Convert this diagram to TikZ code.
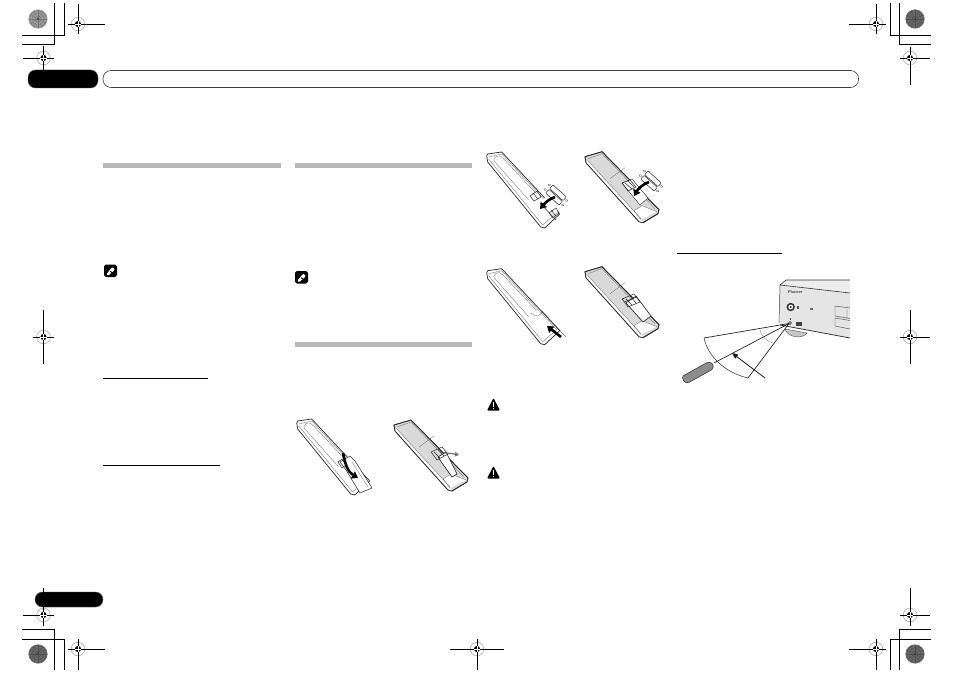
\documentclass[tikz,border=0pt]{standalone}
\usetikzlibrary{arrows.meta}
\definecolor{barg}{gray}{0.72}
\definecolor{regg}{gray}{0.6}
\tikzset{
  trim/.style={line width=0.95pt,black},
  pill/.style={fill=black,draw=black!70,line width=0.4pt,rounded corners=7.5pt},
  bar/.style={fill=barg,draw=none},
  rule/.style={line width=0.8pt,black},
  rem/.style={line width=0.7pt,draw=black!85,line join=round},
  remthin/.style={line width=0.3pt,draw=black!60},
  clutter/.style={line width=0.5pt,draw=black!85},
  bigarrow/.style={line width=2.6pt,black,-{Triangle[length=6pt,width=8pt]}},
  batt/.style={line width=0.5pt,draw=black!85,fill=white,rounded corners=0.8pt},
}
\newcommand{\regmark}[6]{%
  \draw[regg,line width=0.45pt] (#1,#2) circle (6.8);
  \draw[trim] (#1-#3,#2)--(#1+#4,#2) (#1,#2-#5)--(#1,#2+#6);
  \fill[black] (#1,#2) circle (3.1);
  \draw[white,line width=0.4pt] (#1-3.4,#2)--(#1+3.4,#2) (#1,#2-3.4)--(#1,#2+3.4);
}
\newcommand{\discmark}[4]{%
  \fill[#3] (#1,#2) circle (9.6);
  \foreach \a in {0,30,...,330}{\draw[black!#4,line width=0.3pt] (#1,#2)--++(\a:9.2);}
  \foreach \r in {3,6,8.2}{\draw[black!#4,line width=0.3pt] (#1,#2) circle (\r);}
  \fill[black!75] (#1,#2) circle (1.2);
}
\newcommand{\remback}[2]{\begin{scope}[shift={(#1,#2)}]
  \draw[rem,fill=white] (0,0)--(1,-2)--(15,-4)--(73,58)--(58,72)--(54,71)--(1,6)--cycle;
  \draw[remthin] (2,1)--(15,-2)--(70,57)--(56,69)--(2,3);
  \draw[remthin] (9,1) .. controls (6,4) and (7,5) .. (10,8)--(42,44);
  \draw[remthin] (9,1) .. controls (12,-1) and (14,0) .. (17,3)--(50,38);
\end{scope}}
\newcommand{\remfront}[2]{\begin{scope}[shift={(#1,#2)}]
  \draw[rem,fill=black!15] (0,0)--(17,-5)--(74,53)--(73,57)--(58,66)--(54,65)--(1,6)--cycle;
  \fill[white] (1,6)--(54,65)--(58,66)--(56,62)--(2,3)--cycle;
  \fill[white] (57,49)--(49,54)--(56,63)--(72,55)--cycle;
  \draw[rem] (0,0)--(17,-5)--(74,53)--(73,57)--(58,66)--(54,65)--(1,6)--cycle;
  \draw[remthin] (2,3)--(56,62) (3,2)--(17,-3) (17,-3)--(70,52);
  \draw[remthin] (25,22)--(40,11);
  \draw[remthin] (57,49)--(49,54)--(56,63);
  \draw[remthin] (57,49)--(72,55);
\end{scope}}
\newcommand{\notemark}[2]{\begin{scope}[shift={(#1,#2)}]
  \fill[black,rounded corners=1.8pt] (0,0) rectangle (13,12.5);
  \fill[white] (3,9)--(7,4)--(8.5,3)--(10.5,4.5)--(9.5,6.5)--(5,10.5)--(2.8,10.8)--cycle;
  \fill[black] (6.6,6.3)--(8.2,7.7)--(7.4,8.4)--(5.8,7)--cycle;
\end{scope}}
\newcommand{\warnmark}[2]{\begin{scope}[shift={(#1,#2)}]
  \fill[black,rounded corners=1pt] (6.5,0)--(13,12.5)--(0,12.5)--cycle;
  \fill[white] (6,4)--(7,4)--(6.8,9)--(6.2,9)--cycle (6.1,10) rectangle (6.9,11);
\end{scope}}
\newcommand{\battpair}[2]{\begin{scope}[shift={(#1,#2)},rotate=-42]
  \draw[batt] (-9,-5.5) rectangle (9,-0.5);
  \draw[batt] (-9,0.5) rectangle (9,5.5);
  \foreach \p in {(-11.5,-3),(11.5,-3),(-11.5,3),(11.5,3)}{\draw[black!80,line width=0.35pt] \p circle (1.1);}
\end{scope}}
\begin{document}
\begin{tikzpicture}[x=1pt,y=-1pt]
\useasboundingbox (0,0) rectangle (954,674);
\fill[white] (0,0) rectangle (954,674);
% trim marks
\draw[trim] (22,35)--(64,35)--(64,3) (22,44)--(54,44)--(54,3);
\draw[trim] (931,35)--(890,35)--(890,3) (931,44)--(899,44)--(899,3);
\draw[trim] (22,639)--(64,639)--(64,670) (22,629.5)--(54,629.5)--(54,670);
\draw[trim] (931,639)--(890,639)--(890,670) (931,629.5)--(899,629.5)--(899,670);
% discs
\discmark{38}{19}{black!38}{55}
\discmark{915}{19}{black!58}{70}
\discmark{38}{654}{black!58}{70}
\discmark{915}{654}{black!58}{70}
% registration marks
\regmark{78}{24}{10}{27}{20}{10}
\regmark{43.5}{58}{21}{10}{12}{12}
\regmark{876}{24}{27}{10}{20}{10}
\regmark{910}{58}{10}{20}{11}{27}
\regmark{43.5}{615}{21}{10}{27}{11}
\regmark{78}{649}{10}{27}{10}{21}
\regmark{876}{649}{27}{10}{10}{21}
\regmark{910}{615}{10}{20}{27}{11}
\regmark{477}{649}{27}{27}{10}{21}
\regmark{43.5}{337}{10.5}{10.5}{27}{27}
\regmark{910}{337}{10}{20}{27}{27}
% header
\draw[pill] (28,70) rectangle (98,88);
\draw[pill] (35,592) rectangle (103,607);
\draw[black!75,line width=0.6pt,rounded corners=8pt] (103,70.5) rectangle (858.5,87.5);
% section bars and rules
\fill[bar] (103,163) rectangle (281,168);
\fill[bar] (295,163) rectangle (472,168);
\fill[bar] (295,342) rectangle (472,347);
\draw[rule] (103,378)--(208,378);
\draw[rule] (103,465)--(220,465);
\draw[rule] (677,253)--(782,253);
% note and warning icons
\notemark{104}{264.5}
\notemark{295}{271}
\warnmark{487}{398}
\warnmark{487}{466}
% row 1 remotes (batteries)
\remback{486.7}{156}
\fill[white] (536,205)--(552,192)--(558,211)--(549,219)--cycle;
\draw[clutter] (530,196)--(537,191)--(541,197)--(534,201)--cycle (533,193)--(538,199);
\draw[clutter] (549,213)--(556,208)--(559,213)--(553,218)--cycle (551,210)--(556,216);
\draw[black!85,line width=0.5pt] (541,204)--(556,220);
\battpair{556}{195}
\draw[bigarrow] (555,197) .. controls (549,199) and (545,203) .. (540,209);
\remfront{585}{156.7}
\fill[white,draw=black!85,line width=0.4pt] (622,183)--(632,179)--(648,198)--(640,205)--cycle;
\draw[clutter] (622,183)--(630,180)--(636,187)--(628,191)--cycle (625,183)--(632,189) (628,181)--(634,187);
\battpair{651}{181}
\draw[bigarrow] (649,182) .. controls (643,184) and (638,189) .. (634,196);
% row 2 remotes (lid back on)
\remback{486.7}{272.7}
\draw[remthin] (531,313) .. controls (536,318) and (540,316) .. (543,311);
\draw[black!70,line width=0.4pt] (542,311)--(566,337);
\draw[bigarrow] (561,337)--(547,326);
\remfront{585}{271.7}
\fill[white,draw=black!90,line width=0.6pt] (626,303)--(636,296)--(651,316)--(643,322)--cycle;
\draw[clutter] (622,299)--(634,294)--(640,302)--(628,307)--cycle (626,299)--(632,305) (630,296)--(636,303) (624,302)--(637,297);
% row 3 remotes (lid off)
\remback{296.7}{423}
\fill[white,draw=black!85,line width=0.5pt] (340,462)--(346,470)--(360,493)--(372,488)--(355,461)--(350,456)--cycle;
\draw[remthin] (352,462)--(368,487);
\draw[clutter] (338,462)--(342,459)--(346,465)--(342,468)--cycle;
\draw[bigarrow] (343,453) .. controls (345,464) and (348,472) .. (358,478);
\remfront{394}{425}
\fill[white,draw=black!90,line width=0.6pt] (438,457)--(446,452)--(457,474)--(452,477)--(442,463)--cycle;
\draw[clutter] (431,452)--(442,447)--(448,454)--(437,460)--cycle (434,452)--(440,458) (438,449)--(444,456);
\draw[black!55,line width=1.2pt,-{Triangle[length=4pt,width=4.5pt]}] (444,453) .. controls (449,453) and (454,454) .. (459,455);
% receiver
\fill[black!7] (780,285)--(786,280)--(850,280)--(850,293)--cycle;
\fill[black!10] (780,285)--(850,293)--(850,338)--(780,325)--cycle;
\draw[black!80,line width=0.6pt] (850,293)--(780,285)--(786,280)--(850,280);
\draw[black!80,line width=0.5pt] (780,285)--(779,323);
\fill[black!22,draw=black!70,line width=0.4pt] (785,329) .. controls (787,337) and (802,340) .. (807,333) -- cycle;
\draw[black!85,line width=0.7pt] (780,325)--(850,338);
\node[font=\sffamily\bfseries\itshape,scale=0.42,inner sep=0pt,text=black!80] (logo) at (795,292) {Pioneer};
\fill[black!80] (790.7,307) circle (4.2);
\fill[white] (790.7,307) circle (2.4);
\fill[black!80] (790.7,307) circle (1.2);
\fill[black!70] (797,305.5) rectangle (799,309);
\fill[black!60] (809.5,308) rectangle (812.5,309.5);
\draw[black!70,line width=0.45pt] (835,306)--(850,308) (835,306)--(835,316)--(850,318.5) (835,318)--(850,320.5) (835,318)--(835,326)--(850,329) (847,309)--(847,318);
\fill[black!75] (796,322) rectangle (802,326);
\draw[black!85,line width=0.5pt] (790,323) circle (1.5);
\fill[black!70] (789.5,318) rectangle (790.5,319.5);
% reception cone
\coordinate (sensor) at (789,323.5);
\draw[black!90,line width=0.65pt] (sensor)--(704,338);
\draw[black!90,line width=0.65pt] (sensor)--(714,363);
\draw[black!90,line width=0.65pt] (sensor)--(748,378);
\draw[black!85,line width=0.5pt] (704,338) .. controls (708,357) and (726,373) .. (748,378);
\draw[black!50,line width=0.4pt] (760,330) .. controls (761,336) and (766,341) .. (773,343);
\draw[black!90,line width=0.8pt,-{Triangle[length=6pt,width=5pt]}] (765,378)--(732,353);
% remote in hand
\fill[black!45,draw=black!80,line width=0.55pt,rounded corners=1.5pt] (682,376.5)--(684,382)--(688,383)--(713,369)--(713,363.5)--(708,362)--cycle;
\end{tikzpicture}
\end{document}
